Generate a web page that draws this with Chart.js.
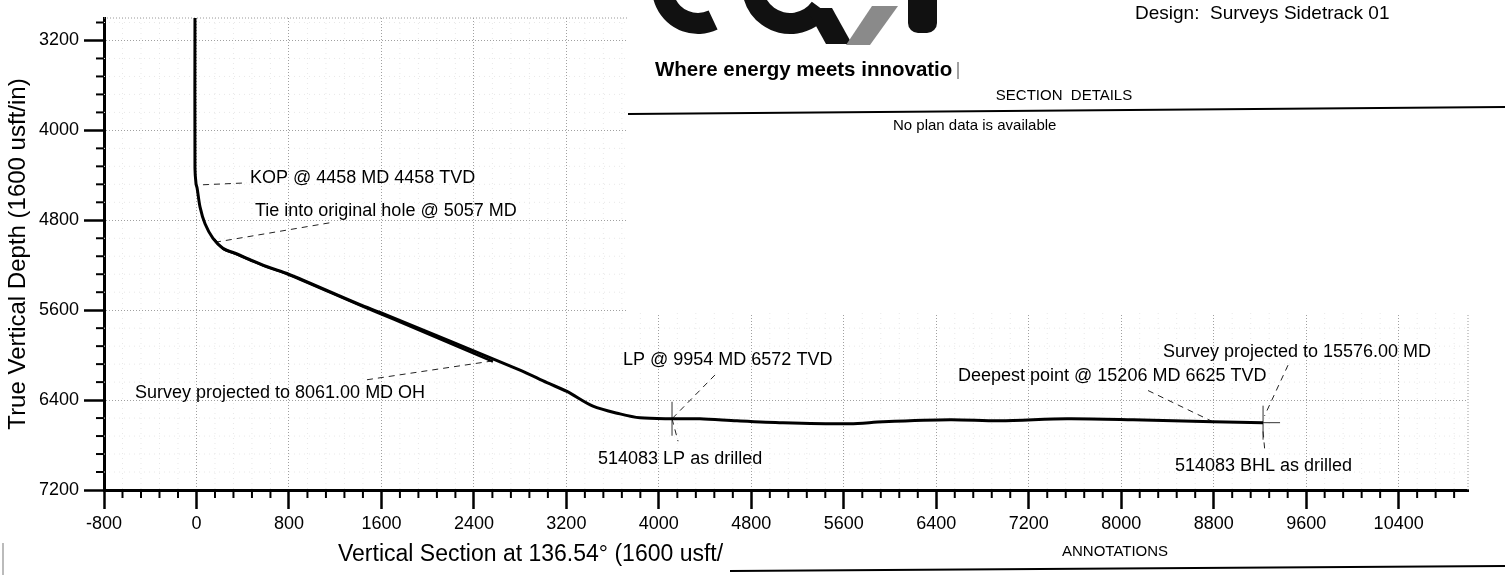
<!DOCTYPE html>
<html>
<head>
<meta charset="utf-8">
<script src="https://cdn.jsdelivr.net/npm/chart.js@4.4.1/dist/chart.umd.min.js"></script>
<style>
  html, body { margin: 0; padding: 0; background: #fff; }
  canvas { display: block; }
</style>
</head>
<body>
<canvas id="wellPlot" width="1510" height="575"></canvas>
<script>
// axis ticks
var xTicks = [-800, 0, 800, 1600, 2400, 3200, 4000, 4800, 5600, 6400, 7200, 8000, 8800, 9600, 10400];
var yTicks = [3200, 4000, 4800, 5600, 6400, 7200];

// sidetrack survey: vertical section / tvd
var mainVS  = [-13, -13, -4, 5, 31, 74, 143, 229, 351, 489, 636, 783, 1415, 1588, 2799, 3032, 3205, 3430, 3664, 3837, 4114, 4356, 4676, 5074, 5654, 5939, 6519, 6951, 7531, 8102, 8794, 9227];
var mainTVD = [3000, 4336, 4475, 4510, 4683, 4831, 4961, 5048, 5100, 5161, 5222, 5273, 5551, 5620, 6133, 6245, 6323, 6454, 6523, 6558, 6566, 6566, 6584, 6601, 6610, 6593, 6575, 6584, 6566, 6575, 6593, 6601];

// original hole, from the tie in
var ohVS  = [150, 229, 351, 489, 636, 783, 1415, 1700, 2565];
var ohTVD = [4968, 5052, 5104, 5165, 5226, 5278, 5557, 5680, 6058];

// annotations
var noteText = ["KOP @ 4458 MD 4458 TVD", "Tie into original hole @ 5057 MD", "Survey projected to 8061.00 MD OH",
                "LP @ 9954 MD 6572 TVD", "514083 LP as drilled", "Deepest point @ 15206 MD 6625 TVD",
                "Survey projected to 15576.00 MD", "514083 BHL as drilled"];
var noteVS  = [463, 506, -532, 3690, 3474, 6588, 8361, 8465];
var noteTVD = [4423, 4714, 6341, 6046, 6922, 6185, 5968, 6983];

// leader lines
var leadFromVS  = [56, 160, 1475, 4486, 4114, 8232, 9443, 9227];
var leadFromTVD = [4484, 4996, 6219, 6176, 6566, 6315, 6089, 6679];
var leadToVS    = [437, 1155, 2539, 4114, 4166, 8794, 9240, 9244];
var leadToTVD   = [4467, 4822, 6055, 6566, 6766, 6593, 6540, 6870];

// LP / BHL markers
var markVS  = [4114, 9227];
var markTVD = [6566, 6601];

var minorStep = 160;

function pts(xs, ys) {
  return xs.map(function (v, i) { return { x: v, y: ys[i] }; });
}

Chart.defaults.font.family = "'Liberation Sans', Arial, sans-serif";
Chart.defaults.color = '#000';

var datasets = [
  { label: 'Sidetrack', data: pts(mainVS, mainTVD), showLine: true, borderColor: '#000', borderWidth: 3, pointRadius: 0, tension: 0.3 },
  { label: 'OH', data: pts(ohVS, ohTVD), showLine: true, borderColor: '#000', borderWidth: 2.5, pointRadius: 0, tension: 0.3 },
  { label: 'marks', data: pts(markVS, markTVD), pointStyle: 'cross', pointRadius: 17, borderColor: '#333', borderWidth: 1 }
];
for (var i = 0; i < leadFromVS.length; i++) {
  datasets.push({
    label: 'lead' + i,
    data: [{ x: leadFromVS[i], y: leadFromTVD[i] }, { x: leadToVS[i], y: leadToTVD[i] }],
    showLine: true, borderColor: '#222', borderWidth: 1, borderDash: [6, 5], pointRadius: 0
  });
}

function seg(c, x1, y1, x2, y2) {
  c.beginPath(); c.moveTo(x1, y1); c.lineTo(x2, y2); c.stroke();
}

var wellDecor = {
  id: 'wellDecor',
  beforeDatasetsDraw: function (chart) {
    var a = chart.chartArea, xs = chart.scales.x, ys = chart.scales.y, c = chart.ctx, v, p;
    c.save();
    // faint minor grid
    c.strokeStyle = '#e8e8e8'; c.lineWidth = 1; c.setLineDash([1, 4]);
    for (v = xs.min + minorStep; v < xs.max; v += minorStep) {
      if (v % 800) { p = xs.getPixelForValue(v); seg(c, p, a.top, p, a.bottom); }
    }
    for (v = ys.min + 40; v < ys.max; v += minorStep) {
      if (v % 800) { p = ys.getPixelForValue(v); seg(c, a.left, p, a.right, p); }
    }
    // top / right frame
    c.strokeStyle = '#999'; c.setLineDash([1, 2]);
    seg(c, a.left, a.top, a.right, a.top);
    seg(c, a.right, a.top, a.right, a.bottom);
    c.setLineDash([]);
    // title block covers the upper right of the plot
    c.fillStyle = '#fff';
    c.fillRect(628, 0, chart.width - 628, 313);
    // minor ticks
    c.strokeStyle = '#000'; c.lineWidth = 2;
    for (v = xs.min + minorStep; v < xs.max; v += minorStep) {
      if (v % 800) { p = xs.getPixelForValue(v); seg(c, p, a.bottom, p, a.bottom + 8); }
    }
    for (v = ys.min + 40; v < ys.max; v += minorStep) {
      if (v % 800) { p = ys.getPixelForValue(v); seg(c, a.left - 8, p, a.left, p); }
    }
    c.restore();
  },
  afterDatasetsDraw: function (chart) {
    var xs = chart.scales.x, ys = chart.scales.y, c = chart.ctx;
    c.save();
    c.font = "18px 'Liberation Sans', Arial, sans-serif";
    c.fillStyle = '#000'; c.textAlign = 'left'; c.textBaseline = 'middle';
    noteText.forEach(function (t, i) {
      c.fillText(t, xs.getPixelForValue(noteVS[i]), ys.getPixelForValue(noteTVD[i]));
    });
    c.restore();
  },
  afterDraw: function (chart) {
    var c = chart.ctx;
    c.save();
    // logo (cut at the top edge)
    c.fillStyle = '#111';
    c.beginPath();
    c.arc(698, -12, 46, 0.36 * Math.PI, Math.PI);
    c.arc(698, -12, 25, Math.PI, 0.36 * Math.PI, true);
    c.closePath(); c.fill();
    c.beginPath();
    c.arc(790, -14, 48, 0.2 * Math.PI, 0.95 * Math.PI);
    c.arc(790, -14, 27, 0.95 * Math.PI, 0.2 * Math.PI, true);
    c.closePath(); c.fill();
    c.beginPath(); c.moveTo(806, 8); c.lineTo(832, 8); c.lineTo(852, 44); c.lineTo(826, 44); c.closePath(); c.fill();
    c.fillStyle = '#8a8a8a';
    c.beginPath(); c.moveTo(872, 6); c.lineTo(898, 6); c.lineTo(870, 45); c.lineTo(846, 45); c.closePath(); c.fill();
    c.fillStyle = '#111';
    c.beginPath(); c.roundRect(908, -15, 29, 48, 10); c.fill();

    c.fillStyle = '#000'; c.textBaseline = 'middle'; c.textAlign = 'left';
    c.font = "bold 20.5px 'Liberation Sans', Arial, sans-serif";
    c.fillText('Where energy meets innovatio', 655, 70);
    c.lineWidth = 1; c.strokeStyle = '#444';
    seg(c, 958, 62, 958, 79);

    c.font = "19px 'Liberation Sans', Arial, sans-serif";
    c.fillText('Design:  Surveys Sidetrack 01', 1135, 14);

    c.font = "15px 'Liberation Sans', Arial, sans-serif";
    c.textAlign = 'center';
    c.fillText('SECTION  DETAILS', 1064, 96);
    c.textAlign = 'left';
    c.fillText('No plan data is available', 893, 126);
    c.fillText('ANNOTATIONS', 1062, 552);

    c.strokeStyle = '#000'; c.lineWidth = 2;
    seg(c, 628, 114, 1505, 107);
    seg(c, 730, 571, 1505, 566);

    c.font = "23px 'Liberation Sans', Arial, sans-serif";
    c.fillText('Vertical Section at 136.54\u00b0 (1600 usft/', 338, 555);

    c.strokeStyle = '#bbb'; c.lineWidth = 2;
    seg(c, 3, 543, 3, 575);
    c.restore();
  }
};

var ctx = document.getElementById('wellPlot').getContext('2d');
var myChart = new Chart(ctx, {
  type: 'scatter',
  data: { datasets: datasets },
  plugins: [wellDecor],
  options: {
    responsive: false,
    animation: false,
    devicePixelRatio: 1,
    layout: { padding: { top: 6, right: 42, left: 0, bottom: 0 } },
    plugins: { legend: { display: false }, tooltip: { enabled: false } },
    scales: {
      x: {
        type: 'linear', min: -800, max: 11000,
        afterBuildTicks: function (s) { s.ticks = xTicks.map(function (v) { return { value: v }; }); },
        afterFit: function (s) { s.height = 85; },
        ticks: { autoSkip: false, maxRotation: 0, padding: 4, font: { size: 18 }, color: '#000',
                 callback: function (v) { return String(v); } },
        grid: { color: '#a0a0a0', lineWidth: 1, tickColor: '#000', tickWidth: 2.5, tickLength: 19 },
        border: { display: true, color: '#000', width: 3, dash: [1, 2] }
      },
      y: {
        type: 'linear', reverse: true, min: 3000, max: 7200,
        afterBuildTicks: function (s) { s.ticks = yTicks.map(function (v) { return { value: v }; }); },
        afterFit: function (s) { s.width = 104; },
        ticks: { padding: 5, font: { size: 18 }, color: '#000',
                 callback: function (v) { return String(v); } },
        grid: { color: '#a0a0a0', lineWidth: 1, tickColor: '#000', tickWidth: 2.5, tickLength: 20 },
        border: { display: true, color: '#000', width: 3, dash: [1, 2] },
        title: { display: true, text: 'True Vertical Depth (1600 usft/in)', font: { size: 24 }, color: '#000', padding: { top: 4, bottom: 0 } }
      }
    }
  }
});
</script>
</body>
</html>
